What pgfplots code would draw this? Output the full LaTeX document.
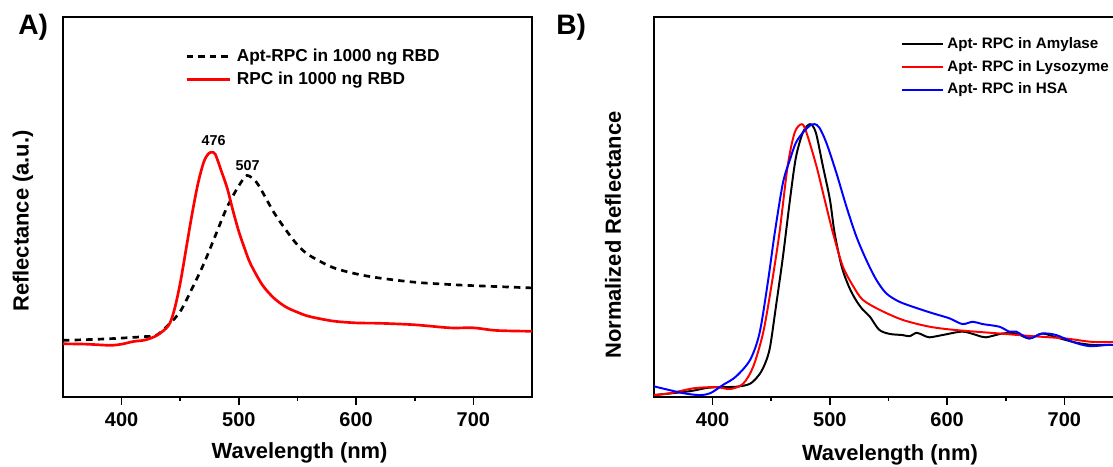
\documentclass[border=0pt]{standalone}
\usepackage{fontspec}
\setmainfont{Liberation Sans}
\usepackage{pgfplots}
\pgfplotsset{compat=1.18}

% shared look of both spectra panels (1 px of the reference = 0.025cm)
\pgfplotsset{
  specpanel/.style={
    scale only axis,
    width=11.725cm, height=9.5cm,
    xmin=350, xmax=750, ymin=0, ymax=100,
    axis line style={line width=1.3pt},
    xtick={400,500,600,700},
    minor xtick={450,550,650},
    ytick=\empty,
    xtick pos=left,
    tick align=outside,
    major tick length=0.2cm, minor tick length=0.1cm,
    tick style={black, line width=1.2pt},
    /pgf/number format/assume math mode=true,
    xticklabel style={font=\bfseries\fontsize{14.2}{16}\selectfont, inner sep=0pt, yshift=-0.17cm},
    legend cell align=left,
  },
}

\begin{document}
\begin{tikzpicture}

% ---------------- panel A ----------------
\begin{axis}[specpanel,
  at={(1.575cm,1.75cm)}, anchor=south west,
  legend style={draw=none, fill=none, at={(0.251,0.925)}, anchor=north west,
    font=\bfseries\fontsize{12.3}{14}\selectfont,
    nodes={inner sep=0pt, text height=9pt, text depth=2.5pt}, row sep=4.9pt},
  legend image code/.code={\draw[#1] (0cm,0cm) -- (1.075cm,0cm); \path (1.225cm,0cm);},
]
\addplot[black, line width=1.9pt, dash pattern=on 0.16cm off 0.13cm, smooth] coordinates {
 (350,14.9) (380,15.2) (400,15.5) (420,15.9) (430,16.3) (440,19.0) (450,22.5)
 (460,28.5) (470,35.0) (480,42.5) (490,50.0) (500,55.6) (507,58.3) (515,56.5)
 (520,54.0) (530,48.5) (540,44.0) (550,40.0) (560,37.3) (580,34.1) (600,32.4)
 (620,31.3) (650,30.2) (680,29.6) (700,29.3) (750,28.7)
};
\addlegendentry{Apt-RPC in 1000 ng RBD}
\addplot[red, line width=1.9pt, smooth] coordinates {
 (350,14.0) (370,13.9) (390,13.6) (400,13.9) (410,14.6) (420,15.0) (430,16.2)
 (440,18.8) (445,23.0) (450,30.0) (455,39.0) (460,48.0) (465,56.0) (470,61.8)
 (474,64.0) (477,64.4) (480,63.8) (485,59.5) (490,55.0) (495,49.0) (500,43.5)
 (505,39.0) (510,35.0) (520,29.5) (530,26.0) (540,23.7) (550,22.3) (560,21.2)
 (580,20.0) (600,19.5) (620,19.4) (650,19.0) (680,18.2) (700,18.2) (720,17.5)
 (750,17.3)
};
\addlegendentry{RPC in 1000 ng RBD}
\node[font=\bfseries\fontsize{10.2}{12}\selectfont] at (axis cs:478.4,67.4) {476};
\node[font=\bfseries\fontsize{10.2}{12}\selectfont] at (axis cs:507.4,61.0) {507};
\end{axis}

% ---------------- panel B ----------------
\begin{axis}[specpanel,
  at={(16.35cm,1.75cm)}, anchor=south west,
  legend style={draw=none, fill=none, at={(0.517,0.955)}, anchor=north west,
    font=\bfseries\fontsize{10.8}{13}\selectfont,
    nodes={inner sep=0pt, text height=8pt, text depth=2.3pt}, row sep=5.8pt},
  legend image code/.code={\draw[#1] (0cm,0cm) -- (1.03cm,0cm); \path (1.11cm,0cm);},
]
\addplot[black, line width=1.4pt, smooth] coordinates {
 (350,0.5) (380,1.5) (395,2.4) (403,2.6) (420,2.7) (432,3.5) (440,6.0) (445,9.0)
 (449,13.2) (454,23.8) (460,37.0) (466,52.0) (471,63.0) (477,69.6) (483,71.8)
 (488,69.6) (494,60.8) (500,52.0) (504,43.2) (510,34.4) (516,29.2) (522,25.6)
 (528,23.0) (534,21.2) (542,17.7) (551,16.6) (562,16.3) (568,16.0) (574,16.9)
 (580,16.2) (585,15.7) (596,16.3) (613,17.2) (625,16.3) (633,15.7) (647,16.7)
 (659,16.7) (670,15.4) (681,16.7) (693,15.7) (710,14.3) (724,13.7) (738,13.7)
 (750,13.6)
};
\addlegendentry{Apt- RPC in Amylase}
\addplot[red, line width=1.4pt, smooth] coordinates {
 (350,0.5) (364,1.0) (384,2.3) (403,2.6) (415,2.1) (426,3.5) (434.5,7.9)
 (443,16.8) (450,29.0) (457,43.2) (464,60.8) (470,69.6) (476,71.8) (480,69.6)
 (488.5,60.8) (495.5,52.0) (502.6,43.2) (511,34.4) (520,29.1) (528,25.6)
 (542,23.0) (562,20.3) (585,18.5) (608,17.6) (645,16.7) (673,16.0) (701,15.4)
 (724,14.5) (750,14.5)
};
\addlegendentry{Apt- RPC in Lysozyme}
\addplot[blue, line width=1.4pt, smooth] coordinates {
 (350,2.8) (358,2.2) (375,1.0) (389,0.5) (398,1.0) (409,3.2) (420,5.4) (432,9.8)
 (440,16.8) (447,30.0) (453,43.2) (460,56.4) (466,62.5) (471,66.9) (477,69.6)
 (483,71.4) (487,71.8) (491,70.9) (497,66.9) (505.5,59.0) (514,50.2) (522.5,42.3)
 (531,36.1) (539.5,30.9) (548,27.3) (559,25.1) (574,23.4) (588,22.0) (602,20.7)
 (613,19.2) (622,19.8) (630,19.2) (644.5,18.5) (653,17.2) (659,17.2) (670,15.4)
 (681,16.7) (693,16.3) (707,14.5) (721,13.4) (738,13.7) (750,13.5)
};
\addlegendentry{Apt- RPC in HSA}
\end{axis}

% titles and axis labels
\begin{scope}[font=\bfseries\fontsize{15.6}{18}\selectfont]
\node[anchor=base] at (7.49cm,0.2cm) {Wavelength (nm)};
\node[anchor=base] at (22.25cm,0.15cm) {Wavelength (nm)};
\node[rotate=90] at (0.575cm,6.15cm) {Reflectance (a.u.)};
\node[rotate=90] at (15.325cm,5.8cm) {Normalized Reflectance};
\end{scope}
\node[anchor=base west, font=\bfseries\fontsize{20}{22}\selectfont, inner sep=0pt] at (0.45cm,10.8cm) {A)};
\node[anchor=base west, font=\bfseries\fontsize{20}{22}\selectfont, inner sep=0pt] at (13.9cm,10.8cm) {B)};

% page = the reference frame; panel B runs past the right edge
\pgfresetboundingbox
\path[use as bounding box] (0cm,0cm) rectangle (27.825cm,11.675cm);
\end{tikzpicture}
\end{document}
